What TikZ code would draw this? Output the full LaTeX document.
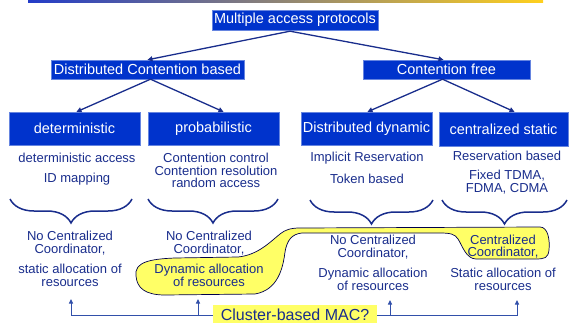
\documentclass[tikz,border=0pt]{standalone}
\usepackage{fontspec}
\setmainfont{Liberation Sans}
\usetikzlibrary{arrows.meta,decorations.pathreplacing}
\definecolor{boxblue}{RGB}{0,51,204}
\definecolor{navy}{RGB}{25,45,140}
\definecolor{linkblue}{RGB}{50,80,170}
\definecolor{hiyel}{RGB}{255,255,102}
\definecolor{barL}{RGB}{35,60,200}
\definecolor{barR}{RGB}{255,208,30}
\tikzset{
  bluebox/.style={fill=boxblue, draw=boxblue!60!white, line width=0.4pt, text=white, inner sep=0pt,
    font=\fontsize{14.5}{16}\selectfont},
  note/.style={text=navy, align=center, inner sep=0pt, font=\fontsize{13}{12.5}\selectfont},
  arr/.style={draw=navy, line width=1.3pt, -{Triangle[length=5pt,width=5pt]}},
  upar/.style={draw=linkblue, line width=1pt, -{Triangle[length=4.5pt,width=4pt]}},
  curly/.style={draw=navy, line width=1.5pt, decorate,
    decoration={brace, mirror, amplitude=24pt}},
}
\begin{document}
\begin{tikzpicture}[x=1pt,y=-1pt]
\useasboundingbox (0,0) rectangle (569,323);
% top bar
\shade[left color=barL, right color=barR] (28,0) rectangle (543,2.5);

% blue boxes
\node[bluebox, minimum width=166pt, minimum height=20pt] (title) at (295,20) {Multiple access protocols};
\node[bluebox, minimum width=193pt, minimum height=19pt] (dcb) at (147.5,69.5) {Distributed Contention based};
\node[bluebox, minimum width=167pt, minimum height=19pt] (cf) at (446.5,69.5) {Contention free};
\node[bluebox, minimum width=131pt, minimum height=33pt] (det) at (74.5,128.5) {deterministic};
\node[bluebox, minimum width=131pt, minimum height=33pt] (prob) at (213.5,128.5) {probabilistic};
\node[bluebox, minimum width=131pt, minimum height=33pt] (dd) at (366.5,128.5) {Distributed dynamic};
\node[bluebox, minimum width=129pt, minimum height=34pt] (cs) at (503.5,129) {centralized static};

% tree arrows
\draw[arr] ([xshift=-5pt,yshift=-1pt]title.south) -- (dcb.north);
\draw[arr] ([xshift=-5pt,yshift=-1pt]title.south) -- ([xshift=-3pt]cf.north);
\draw[arr] ([xshift=3pt]dcb.south) -- ([xshift=2pt]det.north);
\draw[arr] ([xshift=3pt]dcb.south) -- ([xshift=10pt]prob.north);
\draw[arr] ([xshift=-4pt]cf.south) -- ([xshift=1pt]dd.north);
\draw[arr] ([xshift=-4pt]cf.south) -- ([xshift=11pt]cs.north);

% descriptions
\node[note] (d1a) at (77,158) {deterministic access};
\node[note] (d1b) at (77,179) {ID mapping};
\node[note] (d2) at (216,170.5) {Contention control\\Contention resolution\\random access};
\node[note] (d3a) at (367,158) {Implicit Reservation};
\node[note] (d3b) at (367,179) {Token based};
\node[note] (d4a) at (507,156) {Reservation based};
\node[note] (d4b) at (507,182) {Fixed TDMA,\\FDMA, CDMA};

% braces
\draw[curly] (10,199) -- (132,199);
\draw[curly] (148,199) -- (278,199);
\draw[curly] (310,200) -- (433,200);
\draw[curly] (442,200) -- (567,200);

% yellow highlight blob
\draw[fill=hiyel, draw=black!70!blue, line width=0.7pt]
  (136,276) .. controls (134,262) and (150,259) .. (175,258)
  -- (238,257)
  .. controls (258,255) and (270,242) .. (280,234)
  .. controls (285,230) and (290,228) .. (300,228)
  -- (540,227)
  .. controls (548,227) and (550,240) .. (549,250)
  .. controls (548,258) and (545,259) .. (535,259)
  -- (476,259)
  .. controls (466,259) and (462,245) .. (458,239)
  .. controls (455,234) and (450,233) .. (440,233)
  -- (302,233)
  .. controls (292,234) and (287,240) .. (285,252)
  .. controls (283,268) and (278,290) .. (255,294)
  -- (165,295)
  .. controls (145,295) and (137,288) .. (136,276) -- cycle;

% lower notes
\node[note] (n1a) at (70,243) {No Centralized\\Coordinator,};
\node[note] (n1b) at (70,275.5) {static allocation of\\resources};
\node[note] (n2a) at (209,243) {No Centralized\\Coordinator,};
\node[note] (n2b) at (209,275.5) {Dynamic allocation\\of resources};
\node[note] (n3a) at (373,247) {No Centralized\\Coordinator,};
\node[note] (n3b) at (373,279.5) {Dynamic allocation\\of resources};
\node[note] (n4a) at (503,246.5) {Centralized\\Coordinator,};
\node[note] (n4b) at (503,279.5) {Static allocation of\\resources};

% cluster-based question
\coordinate (t1) at (71,299);
\coordinate (t2) at (198,299);
\coordinate (b2) at (198,316);
\coordinate (t3) at (390,300);
\coordinate (b3) at (390,316);
\coordinate (t4) at (517,300);
\draw[upar] (b2) -- (t2);
\draw[upar] (b3) -- (t3);
\node[fill=hiyel, text=navy, inner sep=0pt, minimum width=164pt, minimum height=20pt,
  font=\fontsize{16}{18}\selectfont] (cl) at (295,315) {Cluster-based MAC?};
\draw[upar] (cl.west) -| (t1);
\draw[upar] (cl.east) -| (t4);
\end{tikzpicture}
\end{document}
